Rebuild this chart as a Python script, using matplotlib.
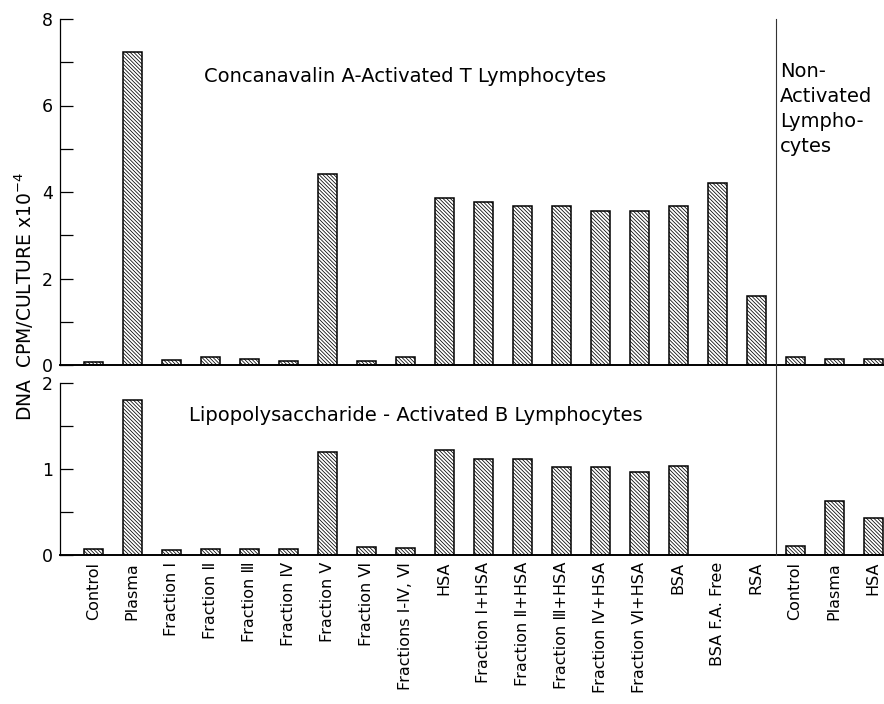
import matplotlib
matplotlib.use('Agg')
import matplotlib.pyplot as plt
from matplotlib.ticker import MultipleLocator
from matplotlib.lines import Line2D
import matplotlib.transforms as mtransforms
import numpy as np

# treatments along the x axis (last three are the non-activated group)
labels = ['Control', 'Plasma', 'Fraction Ⅰ', 'Fraction Ⅱ', 'Fraction Ⅲ', 'Fraction Ⅳ',
          'Fraction Ⅴ', 'Fraction Ⅵ', 'Fractions Ⅰ-Ⅳ, Ⅵ', 'HSA',
          'Fraction Ⅰ+HSA', 'Fraction Ⅱ+HSA', 'Fraction Ⅲ+HSA', 'Fraction Ⅳ+HSA',
          'Fraction Ⅵ+HSA', 'BSA', 'BSA F.A. Free', 'RSA',
          'Control', 'Plasma', 'HSA']

# DNA CPM/culture x 1e-4
cona_t = [0.08, 7.23, 0.12, 0.18, 0.13, 0.10, 4.42, 0.10, 0.18, 3.85,
          3.78, 3.67, 3.67, 3.57, 3.56, 3.67, 4.20, 1.60,
          0.19, 0.14, 0.15]
lps_b = [0.07, 1.80, 0.06, 0.07, 0.07, 0.07, 1.20, 0.09, 0.08, 1.22,
         1.12, 1.12, 1.02, 1.02, 0.97, 1.03, 0.0, 0.0,
         0.11, 0.63, 0.43]

plt.rcParams['hatch.linewidth'] = 0.55
W, H = 884, 704
fig = plt.figure(figsize=(W / 100, H / 100), dpi=100)
ax_top = fig.add_axes([60 / W, 1 - 365 / H, 824 / W, 346 / H])
ax_bot = fig.add_axes([60 / W, 1 - 555 / H, 824 / W, 172 / H])

x = np.arange(len(labels))
bar_kw = dict(width=0.49, color='white', edgecolor='black', linewidth=1.1,
              hatch='\\' * 9, zorder=2)

for ax, vals, top, step in [(ax_top, cona_t, 8, 2), (ax_bot, lps_b, 2, 1)]:
    nz = [i for i, v in enumerate(vals) if v > 0]
    ax.bar(x[nz], [vals[i] for i in nz], **bar_kw)
    ax.set_xlim(-0.85, 20.28)
    ax.set_ylim(0, top)
    ax.yaxis.set_major_locator(MultipleLocator(step))
    ax.yaxis.set_minor_locator(MultipleLocator(step / 2))
    ax.tick_params(axis='y', which='both', direction='in', length=9, width=0.9,
                   labelsize=12.5, pad=5)
    ax.spines[['top', 'right']].set_visible(False)
    ax.spines['left'].set_linewidth(0.9)
    ax.spines['bottom'].set_linewidth(1.4)

ax_top.set_xticks([])
ax_bot.set_xticks(x)
ax_bot.set_xticklabels(labels, rotation=90, fontsize=11.5, va='top', ha='center')
ax_bot.tick_params(axis='x', length=0, pad=5)

ax_top.text(8.0, 6.68, 'Concanavalin A-Activated T Lymphocytes', ha='center',
            va='center', fontsize=14)
ax_bot.text(8.28, 1.62, 'Lipopolysaccharide - Activated B Lymphocytes', ha='center',
            va='center', fontsize=14)
ax_top.text(17.62, 7.0, 'Non-\nActivated\nLympho-\ncytes', ha='left', va='top',
            fontsize=14, linespacing=1.4)

# divider between activated and non-activated groups, through both panels
trans = mtransforms.blended_transform_factory(ax_top.transData, fig.transFigure)
fig.add_artist(Line2D([17.5, 17.5], [1 - 19 / H, 1 - 555 / H], transform=trans,
                      color='#333333', lw=0.8))

fig.text(24 / W, 1 - 297 / H, 'DNA  CPM/CULTURE x10$^{-4}$', rotation=90,
         ha='center', va='center', fontsize=13.5)

fig.savefig('out.png', dpi=100)
